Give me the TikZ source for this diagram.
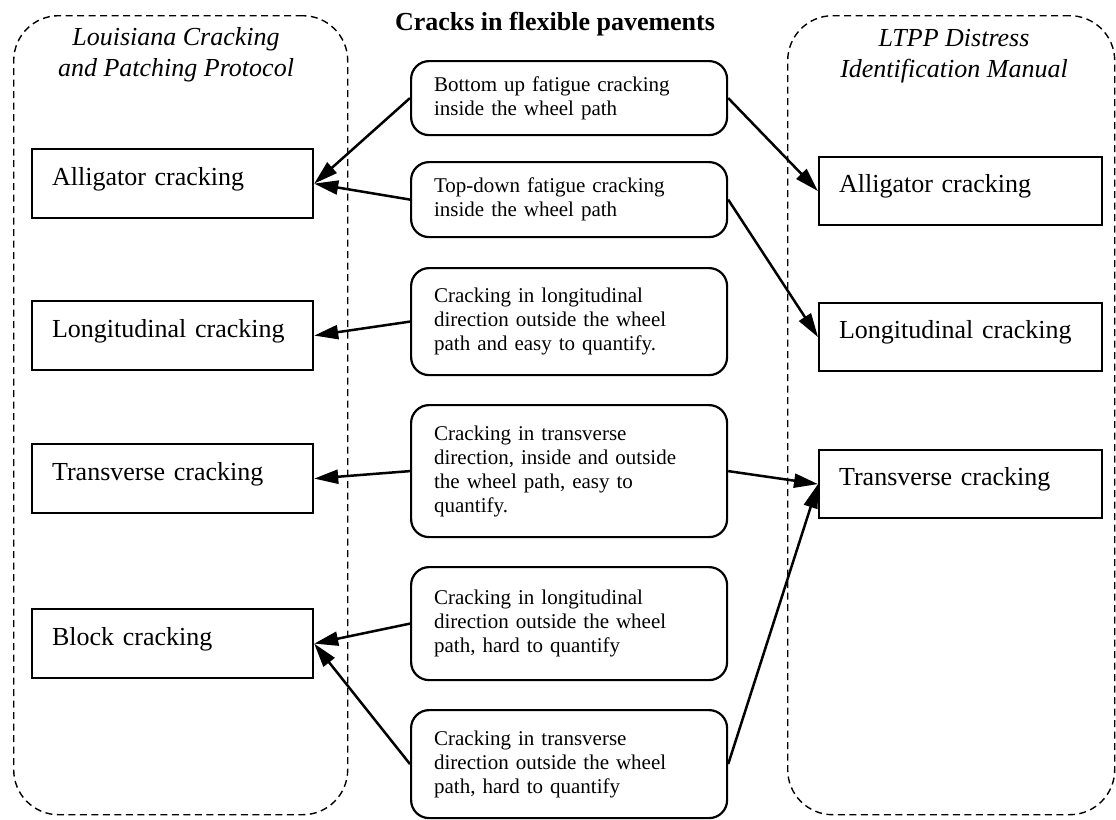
\documentclass[tikz,border=0pt]{standalone}
\usepackage{fontspec}
\setmainfont{Liberation Serif}
\usetikzlibrary{arrows.meta}

\begin{document}
\begin{tikzpicture}[x=1pt,y=-1pt,
    grp/.style={draw,dash pattern=on 7pt off 4.5pt,line width=1.4pt,rounded corners=45pt,
      anchor=north west,inner sep=0pt,minimum height=799pt},
    hdr/.style={font=\itshape\fontsize{26}{31}\selectfont,align=center,anchor=north,inner sep=0pt},
    lbox/.style={draw,line width=2.2pt,anchor=north west,inner ysep=0pt,inner xsep=20pt,
      text width=241pt,align=left,text height=36pt,text depth=33pt,font=\fontsize{26}{30}\selectfont},
    rbox/.style={lbox,text width=243pt,text height=35pt},
    crack/.style={draw,line width=2.2pt,rounded corners=18pt,anchor=north west,inner xsep=23pt,
      text width=270pt,align=left,font=\fontsize{21}{24}\selectfont},
    arr/.style={-{Triangle[length=24pt,width=14pt]},line width=2.5pt}]
    \useasboundingbox[fill=white] (0,0) rectangle (1116,819);

    \node[grp,minimum width=334pt] (lgrp) at (13,15) {};
    \node[grp,minimum width=327pt] (rgrp) at (787,15) {};
    \node[hdr] (lhdr) at (176,27) {Louisiana Cracking\\and Patching Protocol};
    \node[hdr] (rhdr) at (954,29) {LTPP Distress\\Identification Manual};
    \node[font=\bfseries\fontsize{26}{30}\selectfont,anchor=base] (title) at (555,30) {Cracks in flexible pavements};

    \node[lbox] (la) at (31,148) {Alligator cracking};
    \node[lbox] (ll) at (31,300) {Longitudinal cracking};
    \node[lbox] (lt) at (31,443) {Transverse cracking};
    \node[lbox] (lb) at (31,608) {Block cracking};

    \node[rbox] (ra) at (818,156) {Alligator cracking};
    \node[rbox] (rl) at (818,302) {Longitudinal cracking};
    \node[rbox] (rt) at (818,449) {Transverse cracking};

    \node[crack,minimum height=74pt] (m1) at (410,60) {Bottom up fatigue cracking\\inside the wheel path};
    \node[crack,minimum height=75pt] (m2) at (410,161) {Top-down fatigue cracking\\inside the wheel path};
    \node[crack,minimum height=107pt] (m3) at (410,267) {Cracking in longitudinal\\direction outside the wheel\\path and easy to quantify.};
    \node[crack,minimum height=132pt] (m4) at (410,404) {Cracking in transverse\\direction, inside and outside\\the wheel path, easy to\\quantify.};
    \node[crack,minimum height=113pt] (m5) at (410,566) {Cracking in longitudinal\\direction outside the wheel\\path, hard to quantify};
    \node[crack,minimum height=108pt] (m6) at (410,709) {Cracking in transverse\\direction outside the wheel\\path, hard to quantify};

    \draw[arr] (m1.west) -- (la.east);
    \draw[arr] (m2.west) -- (la.east);
    \draw[arr] (m3.west) -- (ll.east);
    \draw[arr] (m4.west) -- (lt.east);
    \draw[arr] (m5.west) -- (lb.east);
    \draw[arr] (m6.west) -- (lb.east);

    \draw[arr] (m1.east) -- (ra.west);
    \draw[arr] (m2.east) -- (rl.west);
    \draw[arr] (m4.east) -- (rt.west);
    \draw[arr] (m6.east) -- (rt.west);
\end{tikzpicture}
\end{document}
